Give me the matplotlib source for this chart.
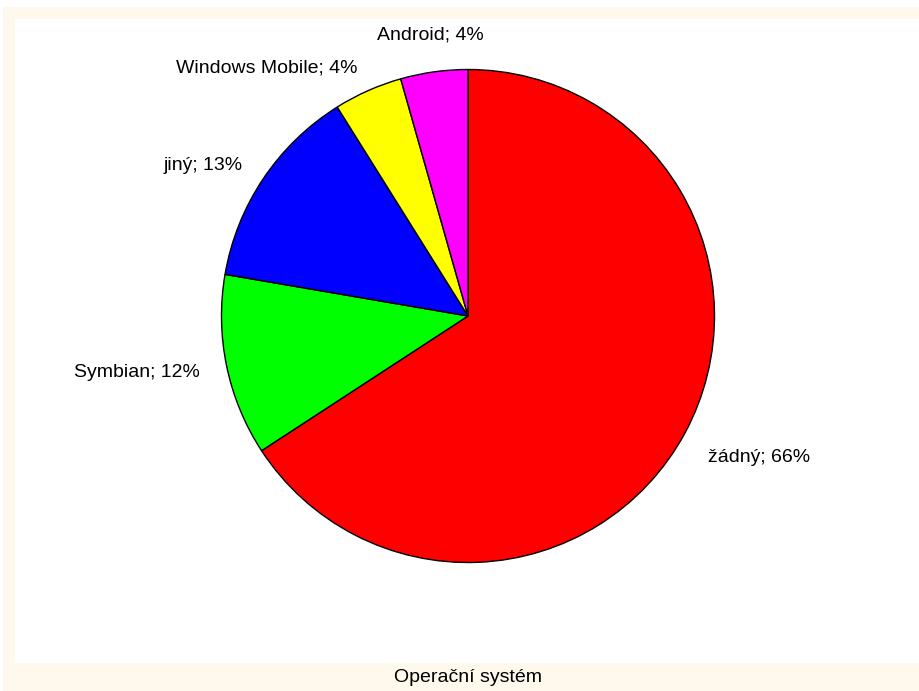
import matplotlib
matplotlib.use("Agg")
import matplotlib.pyplot as plt
from matplotlib.patches import Rectangle

plt.rcParams["font.family"] = ["Liberation Sans", "DejaVu Sans"]

# ── Data ───────────────────────────────────────────────────────────────────────
categories = ["žádný", "Symbian", "jiný", "Windows Mobile", "Android"]
shares     = [65.8, 11.9, 13.4, 4.5, 4.4]
pct_labels = [66, 12, 13, 4, 4]
colors     = ["#FF0000", "#00FF00", "#0000FF", "#FFFF00", "#FF00FF"]
xlabel     = "Operační systém"

CREAM = "#FEF9EC"
W, H = 920, 691
CX, CY, R = 468, 316, 246.5   # pie centre / radius in pixels
FS = 14.0

fig = plt.figure(figsize=(W / 100, H / 100), dpi=100)
fig.patch.set_facecolor("white")

# outer cream frame and white plot area
fig.patches.append(Rectangle((3 / W, -0.1), 1.5, (H - 7) / H + 0.1,
                             transform=fig.transFigure, facecolor=CREAM,
                             edgecolor="none", zorder=-2))
fig.patches.append(Rectangle((15 / W, (H - 663) / H), 1.5, (663 - 19) / H,
                             transform=fig.transFigure, facecolor="white",
                             edgecolor="none", zorder=-1))

ax = fig.add_axes([0, 0, 1, 1])
ax.set_zorder(2)
ax.set_facecolor("none")

labels = [f"{c}; {p}%" for c, p in zip(categories, pct_labels)]
wedges, texts = ax.pie(
    shares, labels=labels, colors=colors,
    startangle=90, counterclock=False, labeldistance=1.1,
    wedgeprops={"edgecolor": "black", "linewidth": 1.0},
    textprops={"fontsize": FS, "color": "black"},
)
# nudge a couple of labels to where the original puts them
texts[0].set_position((0.974, -0.576))
texts[1].set_position((-1.087, -0.231))
texts[4].set_ha("center")
texts[4].set_position((-0.154, 1.14))

ax.set_aspect("auto")
ax.set_xlim(-CX / R, (W - CX) / R)
ax.set_ylim(-(H - CY) / R, CY / R)
ax.axis("off")

fig.text(CX / W, (H - 677) / H, xlabel, ha="center", va="center", fontsize=FS)

fig.savefig("out.png", dpi=100)
